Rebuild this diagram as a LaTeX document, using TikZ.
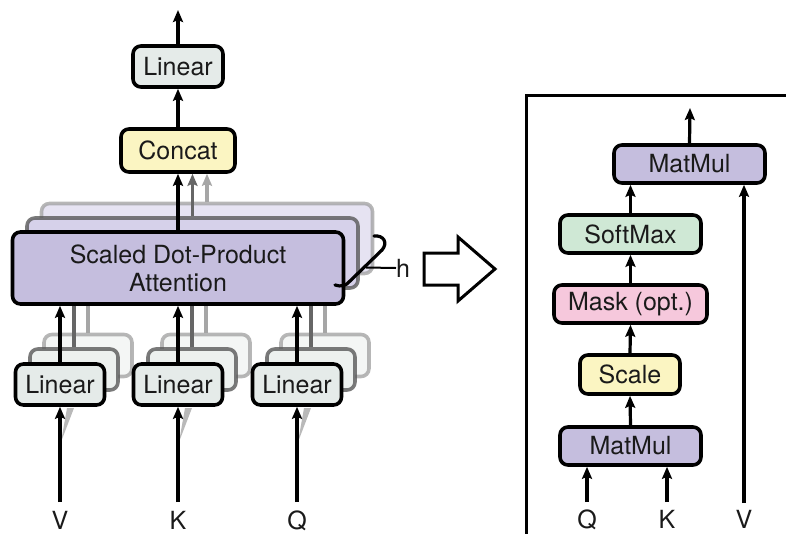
\documentclass[tikz,border=0pt]{standalone}
\usepackage{fontspec}
\setmainfont{TeX Gyre Heros}
\usetikzlibrary{arrows.meta,calc}

\definecolor{linfill}{HTML}{E5EBE9}
\definecolor{linfillB}{HTML}{EDF1EF}
\definecolor{linfillC}{HTML}{F4F6F5}
\definecolor{catfill}{HTML}{FBF5C2}
\definecolor{attfill}{HTML}{C5BEDE}
\definecolor{attfillB}{HTML}{D6D1EA}
\definecolor{attfillC}{HTML}{E6E3F2}
\definecolor{smfill}{HTML}{CFE8D5}
\definecolor{maskfill}{HTML}{F6C8DC}
\definecolor{txt}{HTML}{1A1A1A}

\begin{document}
\begin{tikzpicture}[x=1pt,y=-1pt,
  box/.style={draw=black, line width=3.6pt, rounded corners=8pt, inner sep=0pt,
    font=\fontsize{25}{29}\selectfont, text=txt, align=center},
  ghostA/.style={draw=black!65, draw opacity=0.8, line width=3.6pt, rounded corners=8pt, inner sep=0pt},
  ghostB/.style={draw=black!40, draw opacity=0.7, line width=3.6pt, rounded corners=8pt, inner sep=0pt},
  arr/.style={line width=3.2pt, -{Stealth[length=12pt,width=10pt,inset=2pt]}},
  garrA/.style={line width=3.2pt, draw=black!60, -{Stealth[length=12pt,width=10pt,inset=2pt]}},
  garrB/.style={line width=3.2pt, draw=black!35, -{Stealth[length=12pt,width=10pt,inset=2pt]}},
  glineA/.style={line width=3.2pt, draw=black!60},
  glineB/.style={line width=3.2pt, draw=black!35},
  lbl/.style={font=\fontsize{25}{29}\selectfont, text=txt, inner sep=0pt},
]
\useasboundingbox (0,0) rectangle (786,533);

% ---------------- multi-head attention ----------------
% stacked attention heads (back to front)
\node[ghostB, fill=attfillC, minimum width=331pt, minimum height=70pt] (att3) at (207,238.5) {};
\node[ghostA, fill=attfillB, minimum width=331pt, minimum height=70pt] (att2) at (192.5,253) {};

% output projection and concatenation
\node[box, fill=linfill, minimum width=90pt, minimum height=41pt] (lout) at (178,66.5) {Linear};
\node[box, fill=catfill, minimum width=114pt, minimum height=43pt] (concat) at (178,150.5) {Concat};
\coordinate (top) at (178,10);

\draw[garrB] (att3.north) -- (att3.north |- concat.south);
\draw[garrA] (att2.north) -- (att2.north |- concat.south);

% stacked input projections
\foreach \n/\x in {v/60,k/178,q/297}{
  \node[ghostB, fill=linfillC, minimum width=88pt, minimum height=42pt] (l\n3) at (\x+28,355.5) {};
  \node[ghostA, fill=linfillB, minimum width=88pt, minimum height=41pt] (l\n2) at (\x+14,369.5) {};
}
\foreach \n in {v,k,q}{
  \draw[glineB] (l\n3.north) -- (l\n3.north |- att2.south);
  \draw[glineA] (l\n2.north) -- (l\n2.north |- att2.south);
}

% front attention head
\node[box, fill=attfill, minimum width=331pt, minimum height=72pt] (att) at (178,268)
  {Scaled Dot-Product\\[-1pt]Attention};

% front input projections and their inputs
\foreach \n/\x/\t in {v/60/V,k/178/K,q/297/Q}{
  \node[box, fill=linfill, minimum width=89pt, minimum height=41pt] (l\n) at (\x,384.5) {Linear};
  \node[lbl, anchor=base] (in\n) at (\x,529) {\t};
  \coordinate (src\n) at (\x,502);
  % faint shadow of the inputs feeding the other heads
  \fill[black!50, opacity=0.55] (\x+1,442) -- (\x+7,408) -- (\x+14,408) -- cycle;
  \draw[arr] (src\n) -- (l\n.south);
  \draw[arr] (l\n.north) -- (l\n.north |- att.south);
}

\draw[arr] (att.north) -- (concat.south);
\draw[arr] (concat.north) -- (lout.south);
\draw[arr] (lout.north) -- (top);

% brace marking the h heads
\draw[line width=3.2pt, line cap=round]
  (374,236) .. controls (384,235) and (388,243) .. (382,250)
  -- (350,281) .. controls (346,286) and (341,287) .. (335,285);
\coordinate (hb) at (366,267.5);
\node[lbl, anchor=west] (hlab) at (396,268) {h};
\draw[line width=2pt] (hb) -- (hlab.west);

% hollow arrow pointing to the detailed view
\draw[line width=3pt, line join=miter]
  (424,253) -- (458,253) -- (458,237) -- (495,269) -- (458,301) -- (458,285) -- (424,285) -- cycle;

% ---------------- scaled dot-product attention ----------------
\draw[line width=3pt] (800,95) -- (526,95) -- (526,545);

\node[box, fill=attfill, minimum width=151pt, minimum height=38pt] (mm2) at (689.5,164) {MatMul};
\node[box, fill=smfill, minimum width=141pt, minimum height=38pt] (sm) at (630.5,234) {SoftMax};
\node[box, fill=maskfill, minimum width=153pt, minimum height=38pt] (mask) at (630.5,304) {Mask (opt.)};
\node[box, fill=catfill, minimum width=100pt, minimum height=39pt] (scale) at (630,374.5) {Scale};
\node[box, fill=attfill, minimum width=141pt, minimum height=38pt] (mm1) at (630.5,446) {MatMul};

\node[lbl, anchor=base] (rq) at (587,528) {Q};
\node[lbl, anchor=base] (rk) at (667,528) {K};
\node[lbl, anchor=base] (rv) at (744,528) {V};
\coordinate (rqs) at (587,502);
\coordinate (rks) at (667,502);
\coordinate (rvs) at (744,503);
\coordinate (rout) at (690,108);

\draw[arr] (rqs) -- (rqs |- mm1.south);
\draw[arr] (rks) -- (rks |- mm1.south);
\draw[arr] (mm1.north) -- (scale.south);
\draw[arr] (scale.north) -- (mask.south);
\draw[arr] (mask.north) -- (sm.south);
\draw[arr] (sm.north) -- (sm.north |- mm2.south);
\draw[arr] (rvs) -- (rvs |- mm2.south);
\draw[arr] (mm2.north) -- (rout);
\end{tikzpicture}
\end{document}
